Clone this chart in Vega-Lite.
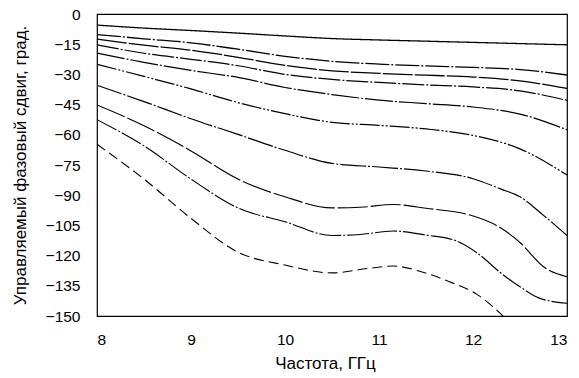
{
  "$schema": "https://vega.github.io/schema/vega-lite/v6.json",
  "width": 470,
  "height": 302,
  "autosize": "none",
  "padding": {"left": 97, "top": 14, "right": 12, "bottom": 62},
  "background": "white",
  "config": {
    "font": "Liberation Sans",
    "view": {"stroke": "black", "strokeWidth": 1.2},
    "axis": {"grid": false, "ticks": false, "domain": false, "labelColor": "black", "titleColor": "black", "labelFont": "Liberation Sans", "titleFont": "Liberation Sans", "titleFontWeight": "normal"}
  },
  "data": {
    "values": [
      {"c": "c1", "f": 8, "v": -5.5}, {"c": "c1", "f": 8.5, "v": -7}, {"c": "c1", "f": 9, "v": -8.2}, {"c": "c1", "f": 9.5, "v": -9.5}, {"c": "c1", "f": 10, "v": -10.9}, {"c": "c1", "f": 10.5, "v": -12.2}, {"c": "c1", "f": 11, "v": -12.9}, {"c": "c1", "f": 11.5, "v": -13.5}, {"c": "c1", "f": 12, "v": -14.1}, {"c": "c1", "f": 12.5, "v": -14.7}, {"c": "c1", "f": 13, "v": -15.3},
      {"c": "c2", "f": 8, "v": -10.2}, {"c": "c2", "f": 8.5, "v": -12.3}, {"c": "c2", "f": 9, "v": -14.3}, {"c": "c2", "f": 9.5, "v": -17.5}, {"c": "c2", "f": 10, "v": -21}, {"c": "c2", "f": 10.5, "v": -23.5}, {"c": "c2", "f": 11, "v": -24.9}, {"c": "c2", "f": 11.5, "v": -25.8}, {"c": "c2", "f": 12, "v": -26.5}, {"c": "c2", "f": 12.5, "v": -27.6}, {"c": "c2", "f": 13, "v": -30.3},
      {"c": "c3", "f": 8, "v": -12.5}, {"c": "c3", "f": 8.5, "v": -15.5}, {"c": "c3", "f": 9, "v": -18}, {"c": "c3", "f": 9.5, "v": -21.5}, {"c": "c3", "f": 10, "v": -25.5}, {"c": "c3", "f": 10.5, "v": -28.2}, {"c": "c3", "f": 11, "v": -29.5}, {"c": "c3", "f": 11.5, "v": -30.4}, {"c": "c3", "f": 12, "v": -31.3}, {"c": "c3", "f": 12.5, "v": -33.2}, {"c": "c3", "f": 13, "v": -37},
      {"c": "c4", "f": 8, "v": -15.3}, {"c": "c4", "f": 8.5, "v": -19.5}, {"c": "c4", "f": 9, "v": -22.5}, {"c": "c4", "f": 9.5, "v": -25.7}, {"c": "c4", "f": 10, "v": -30}, {"c": "c4", "f": 10.5, "v": -32.5}, {"c": "c4", "f": 11, "v": -34}, {"c": "c4", "f": 11.5, "v": -35.2}, {"c": "c4", "f": 12, "v": -36.2}, {"c": "c4", "f": 12.5, "v": -38.2}, {"c": "c4", "f": 13, "v": -42.9},
      {"c": "c5", "f": 8, "v": -19.4}, {"c": "c5", "f": 8.5, "v": -24}, {"c": "c5", "f": 9, "v": -28}, {"c": "c5", "f": 9.5, "v": -31.5}, {"c": "c5", "f": 10, "v": -36.5}, {"c": "c5", "f": 10.5, "v": -40}, {"c": "c5", "f": 11, "v": -42.8}, {"c": "c5", "f": 11.5, "v": -44.5}, {"c": "c5", "f": 12, "v": -46.2}, {"c": "c5", "f": 12.5, "v": -49.7}, {"c": "c5", "f": 13, "v": -57.5},
      {"c": "c6", "f": 8, "v": -25}, {"c": "c6", "f": 8.5, "v": -31}, {"c": "c6", "f": 9, "v": -37.2}, {"c": "c6", "f": 9.5, "v": -44}, {"c": "c6", "f": 10, "v": -49.5}, {"c": "c6", "f": 10.5, "v": -53.8}, {"c": "c6", "f": 11, "v": -55.3}, {"c": "c6", "f": 11.5, "v": -57.1}, {"c": "c6", "f": 12, "v": -60.3}, {"c": "c6", "f": 12.5, "v": -67}, {"c": "c6", "f": 13, "v": -80},
      {"c": "c7", "f": 8, "v": -35.4}, {"c": "c7", "f": 8.5, "v": -43.5}, {"c": "c7", "f": 9, "v": -52}, {"c": "c7", "f": 9.5, "v": -59.8}, {"c": "c7", "f": 10, "v": -67.7}, {"c": "c7", "f": 10.5, "v": -74.2}, {"c": "c7", "f": 11, "v": -76}, {"c": "c7", "f": 11.5, "v": -78}, {"c": "c7", "f": 12, "v": -81.8}, {"c": "c7", "f": 12.3, "v": -87}, {"c": "c7", "f": 12.5, "v": -90.8}, {"c": "c7", "f": 12.75, "v": -100}, {"c": "c7", "f": 13, "v": -110},
      {"c": "c8", "f": 8, "v": -45.2}, {"c": "c8", "f": 8.5, "v": -55.5}, {"c": "c8", "f": 9, "v": -68}, {"c": "c8", "f": 9.5, "v": -82}, {"c": "c8", "f": 10, "v": -90.8}, {"c": "c8", "f": 10.5, "v": -96.3}, {"c": "c8", "f": 10.8, "v": -96}, {"c": "c8", "f": 11.15, "v": -94.6}, {"c": "c8", "f": 11.5, "v": -96.5}, {"c": "c8", "f": 12, "v": -100.3}, {"c": "c8", "f": 12.25, "v": -105}, {"c": "c8", "f": 12.5, "v": -113.5}, {"c": "c8", "f": 12.75, "v": -125.5}, {"c": "c8", "f": 13, "v": -130.5},
      {"c": "c9", "f": 8, "v": -52.5}, {"c": "c9", "f": 8.5, "v": -65.5}, {"c": "c9", "f": 9, "v": -82}, {"c": "c9", "f": 9.5, "v": -96.3}, {"c": "c9", "f": 10, "v": -103.2}, {"c": "c9", "f": 10.5, "v": -110}, {"c": "c9", "f": 10.8, "v": -109.5}, {"c": "c9", "f": 11.15, "v": -107.8}, {"c": "c9", "f": 11.5, "v": -109.8}, {"c": "c9", "f": 11.8, "v": -112.3}, {"c": "c9", "f": 12.05, "v": -118.9}, {"c": "c9", "f": 12.3, "v": -128.8}, {"c": "c9", "f": 12.5, "v": -135.5}, {"c": "c9", "f": 12.7, "v": -141}, {"c": "c9", "f": 13, "v": -143.7},
      {"c": "c10", "f": 8, "v": -64.7}, {"c": "c10", "f": 8.5, "v": -82}, {"c": "c10", "f": 9, "v": -101.5}, {"c": "c10", "f": 9.5, "v": -118.3}, {"c": "c10", "f": 10, "v": -124.7}, {"c": "c10", "f": 10.5, "v": -128.6}, {"c": "c10", "f": 10.9, "v": -126.3}, {"c": "c10", "f": 11.15, "v": -125.2}, {"c": "c10", "f": 11.45, "v": -128}, {"c": "c10", "f": 11.75, "v": -133}, {"c": "c10", "f": 12.05, "v": -139.5}, {"c": "c10", "f": 12.32, "v": -150}
    ]
  },
  "mark": {"type": "line", "interpolate": "monotone", "clip": true, "color": "black"},
  "encoding": {
    "x": {
      "field": "f", "type": "quantitative",
      "scale": {"domain": [8, 13], "nice": false, "zero": false},
      "axis": {"title": "Частота, ГГц", "values": [8, 9, 10, 11, 12, 13], "labelFontSize": 15.5, "labelPadding": 16, "titleFontSize": 17, "titleX": 228, "titleY": 52, "titleBaseline": "alphabetic", "titleAlign": "center"}
    },
    "y": {
      "field": "v", "type": "quantitative",
      "scale": {"domain": [-150, 0], "nice": false, "zero": false},
      "axis": {"title": "Управляемый фазовый сдвиг, град.", "values": [0, -15, -30, -45, -60, -75, -90, -105, -120, -135, -150], "labelFontSize": 15.5, "labelPadding": 17, "titleFontSize": 17, "titleAngle": 270, "titleX": -72, "titleY": 151, "titleBaseline": "alphabetic", "titleAlign": "center"}
    },
    "strokeDash": {
      "field": "c", "type": "nominal", "legend": null,
      "scale": {
        "domain": ["c1", "c2", "c3", "c4", "c5", "c6", "c7", "c8", "c9", "c10"],
        "range": [[1, 0], [24, 2, 2, 2], [30, 2], [22, 2, 2, 2], [28, 2, 2, 2], [20, 2, 2, 2, 2, 2], [26, 2, 2, 2], [30, 3], [22, 2, 2, 2], [10, 5]]
      }
    },
    "strokeWidth": {
      "field": "c", "type": "nominal", "legend": null,
      "scale": {
        "domain": ["c1", "c2", "c3", "c4", "c5", "c6", "c7", "c8", "c9", "c10"],
        "range": [1.3, 1.1, 1.1, 1.1, 1, 1, 1, 1, 1, 2.2]
      }
    }
  }
}
